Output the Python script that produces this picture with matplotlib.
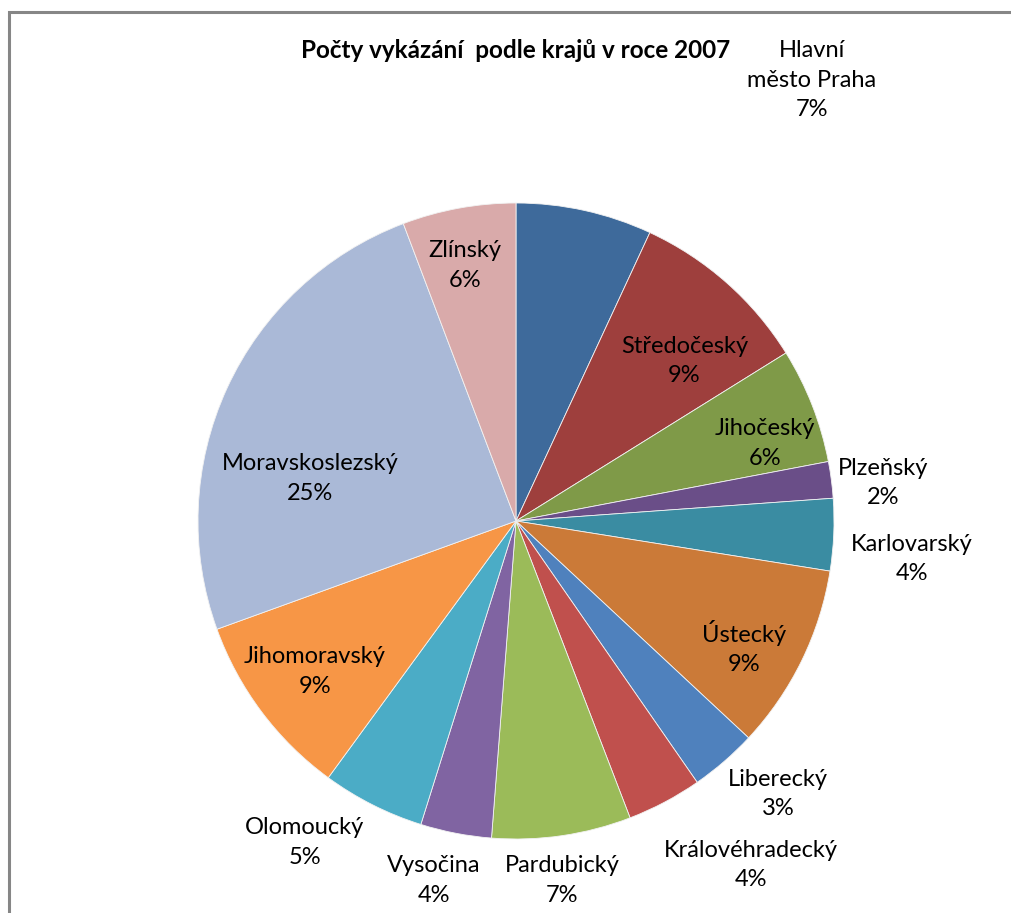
import numpy as np
import matplotlib
matplotlib.use("Agg")
import matplotlib.pyplot as plt

# podíly krajů (v %)
kraje = ["Hlavní\nměsto Praha", "Středočeský", "Jihočeský", "Plzeňský",
         "Karlovarský", "Ústecký", "Liberecký", "Královéhradecký",
         "Pardubický", "Vysočina", "Olomoucký", "Jihomoravský",
         "Moravskoslezský", "Zlínský"]
podily = [6.9, 9.2, 5.85, 1.85, 3.65, 9.4, 3.4, 3.8, 7.05, 3.6, 5.2, 9.4, 24.7, 5.75]
barvy = ["#3E6A9B", "#9E3F3D", "#7F9A48", "#6A4E88", "#3A8CA2", "#CB7A38",
         "#4F81BD", "#C0504D", "#9BBB59", "#8064A2", "#4BACC6", "#F79646",
         "#AAB9D7", "#D9AAAA"]

plt.rcParams['font.family'] = ['Lato', 'DejaVu Sans']

W, H = 1011, 913
fig = plt.figure(figsize=(W / 100, H / 100), dpi=100)
ax = fig.add_axes([0, 0, 1, 1])

cx, cy, R = 516, H - 521, 318
wedges, _ = ax.pie(podily, colors=barvy, startangle=90, counterclock=False,
                   center=(cx, cy), radius=R, frame=True,
                   wedgeprops=dict(edgecolor="#F2F2F2", linewidth=0.6))
ax.set_xlim(0, W)
ax.set_ylim(0, H)
ax.set_aspect("equal")
ax.axis("off")

# poloha popisků: (násobek poloměru, posun úhlu ve stupních)
poloha = [None, (0.73, 5), (0.82, 4), (1.16, 1.5), (1.25, 3), (0.82, 3),
          (1.19, -3), (1.31, -6.5), (1.14, 1), (1.16, 2), (1.21, 6.5),
          (0.79, 0), (0.66, -13), (0.82, -1)]

total = sum(podily)
cum = 0
for i, (k, p) in enumerate(zip(kraje, podily)):
    mid = (cum + p / 2) / total * 360
    cum += p
    text = f"{k}\n{round(p / total * 100):.0f}%"
    if poloha[i] is None:
        x, y = 812, H - 80
    else:
        f, d = poloha[i]
        a = np.deg2rad(mid + d)
        x, y = cx + f * R * np.sin(a), cy + f * R * np.cos(a)
    ax.text(x, y, text, ha="center", va="center", fontsize=17,
            linespacing=1.5, color="black")

ax.text(516, H - 50, "Počty vykázání  podle krajů v roce 2007", ha="center",
        va="center", fontsize=17.5, fontweight="bold")

# rámeček grafu
ax.plot([9, 9, W], [0, H - 12, H - 12], color="#868686", lw=2.2,
        solid_joinstyle="miter", clip_on=False)

fig.savefig("out.png", dpi=100)
